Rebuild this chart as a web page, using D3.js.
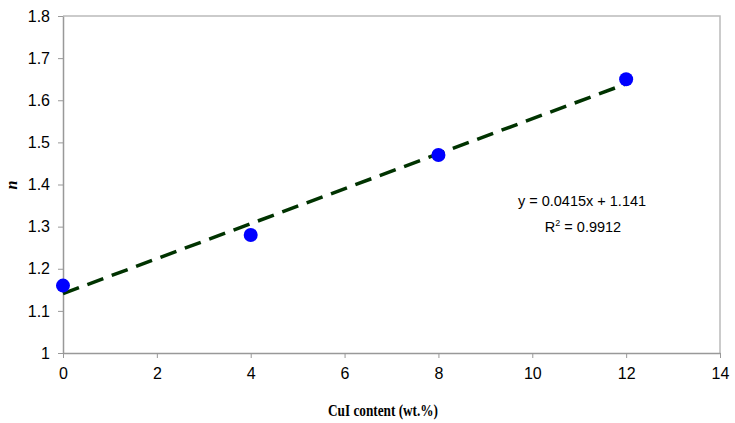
<!DOCTYPE html>
<html>
<head>
<meta charset="utf-8">
<script src="https://cdn.jsdelivr.net/npm/d3@7"></script>
<style>
  body { margin: 0; background: #fff; }
  svg { display: block; }
</style>
</head>
<body>
<div class="chart"></div>
<script>
var svgWidth = 735;
var svgHeight = 423;

var margin = { top: 16, right: 15, bottom: 70, left: 63 };
var width = 720 - margin.left;
var height = 353 - margin.top;

// data
var cuiContent = [0, 4, 8, 12];
var nValues = [1.16, 1.28, 1.47, 1.65];
var xTicks = [0, 2, 4, 6, 8, 10, 12, 14];
var yTicks = [1, 1.1, 1.2, 1.3, 1.4, 1.5, 1.6, 1.7, 1.8];
var slope = 0.0415;
var intercept = 1.141;
var fitRange = [0, 12];

var svg = d3.select(".chart")
  .append("svg")
  .attr("width", svgWidth)
  .attr("height", svgHeight);

var chartGroup = svg.append("g")
  .attr("transform", `translate(${margin.left}, ${margin.top})`);

var xScale = d3.scaleLinear().domain([0, 14]).range([0, width]);
var yScale = d3.scaleLinear().domain([1, 1.8]).range([height, 0]);

// top and right border
chartGroup.append("path")
  .attr("d", `M0,0H${width}V${height}`)
  .attr("fill", "none")
  .attr("stroke", "#bbb")
  .attr("stroke-width", 1.5);

var bottomAxis = d3.axisBottom(xScale)
  .tickValues(xTicks)
  .tickSize(5)
  .tickSizeOuter(0)
  .tickPadding(10)
  .tickFormat(d3.format("d"));

var leftAxis = d3.axisLeft(yScale)
  .tickValues(yTicks)
  .tickSize(5)
  .tickSizeOuter(0)
  .tickPadding(8)
  .tickFormat(d => d === 1 ? "1" : d3.format(".1f")(d));

var xAxis = chartGroup.append("g")
  .attr("transform", `translate(0, ${height})`)
  .call(bottomAxis);

var yAxis = chartGroup.append("g")
  .call(leftAxis);

[xAxis, yAxis].forEach(function(ax) {
  ax.select(".domain").attr("stroke", "#999").attr("stroke-width", 1.5);
  ax.selectAll(".tick line").attr("stroke", "#999");
  ax.selectAll("text")
    .attr("font-family", "Liberation Sans, Arial, sans-serif")
    .attr("font-size", 16)
    .attr("fill", "#000");
});

// trend line
chartGroup.append("line")
  .attr("x1", xScale(fitRange[0]))
  .attr("y1", yScale(slope * fitRange[0] + intercept))
  .attr("x2", xScale(fitRange[1]))
  .attr("y2", yScale(slope * fitRange[1] + intercept))
  .attr("stroke", "#003300")
  .attr("stroke-width", 3.5)
  .attr("stroke-dasharray", "17,9");

// points
chartGroup.selectAll("circle")
  .data(cuiContent)
  .enter()
  .append("circle")
  .attr("cx", d => xScale(d))
  .attr("cy", (d, i) => yScale(nValues[i]))
  .attr("r", 7)
  .attr("fill", "#0000ff");

// equation
var eq = svg.append("g")
  .attr("font-family", "Liberation Sans, Arial, sans-serif")
  .attr("font-size", 14.5)
  .attr("text-anchor", "middle")
  .attr("fill", "#000");

eq.append("text")
  .attr("x", 582)
  .attr("y", 206)
  .text("y = 0.0415x + 1.141");

var r2 = eq.append("text")
  .attr("x", 583)
  .attr("y", 232);
r2.append("tspan").text("R");
r2.append("tspan").attr("dy", -6).attr("font-size", 9).text("2");
r2.append("tspan").attr("dy", 6).text(" = 0.9912");

// axis titles
svg.append("text")
  .attr("x", 383)
  .attr("y", 416)
  .attr("text-anchor", "middle")
  .attr("font-family", "Liberation Serif, Times New Roman, serif")
  .attr("font-weight", "bold")
  .attr("font-size", 16)
  .attr("textLength", 110)
  .attr("lengthAdjust", "spacingAndGlyphs")
  .text("CuI content (wt.%)");

svg.append("text")
  .attr("transform", "translate(17, 185) rotate(-90)")
  .attr("text-anchor", "middle")
  .attr("font-family", "Liberation Serif, Times New Roman, serif")
  .attr("font-weight", "bold")
  .attr("font-style", "italic")
  .attr("font-size", 16)
  .text("n");
</script>
</body>
</html>
